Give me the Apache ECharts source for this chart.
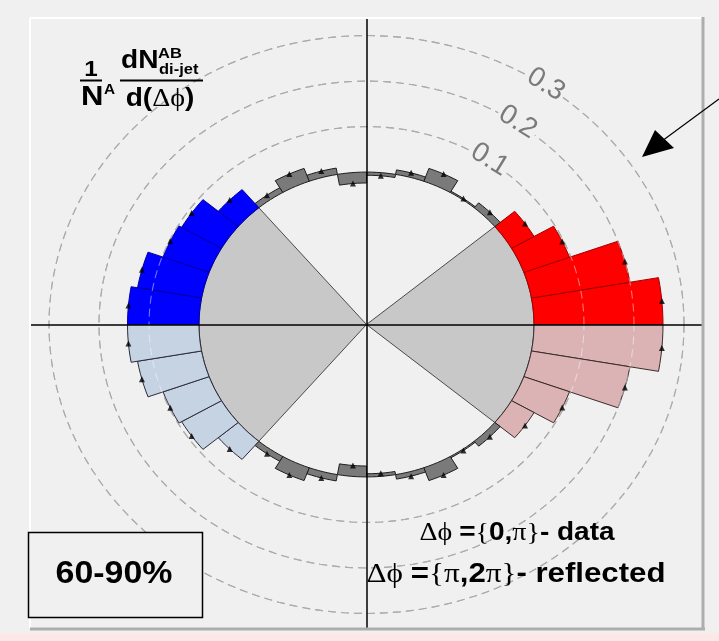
<!DOCTYPE html>
<html>
<head>
<meta charset="utf-8">
<title>Di-jet Δϕ distribution, 60-90%</title>
<script src="https://cdn.jsdelivr.net/npm/echarts@6/dist/echarts.min.js"></script>
<style>
html,body{margin:0;padding:0;background:#f0f0f0;}
#chart{width:719px;height:641px;}
</style>
</head>
<body>
<div id="chart"></div>
<script>
// Δϕ binning (degrees): 18 bins of 10° across the measured half {0, π}
const binStartDeg = [0, 10, 20, 30, 40, 50, 60, 70, 80, 90, 100, 110, 120, 130, 140, 150, 160, 170];
const binWidthDeg = 10;
// 1/N^A dN^AB_di-jet / d(Δϕ) for each bin
const pairYield = [0.258, 0.200, 0.097, 0.052, 0.014, 0.003, 0.030, 0.010, -0.007,
                   -0.024, 0.014, 0.030, 0.012, 0.052, 0.092, 0.098, 0.130, 0.143];
// near-side and away-side windows (degrees), drawn as shaded sectors
const nearSideDeg = [-40, 40];
const awaySideDeg = [130, 230];
// radial rings and their labels
const ringTicks = [0.1, 0.2, 0.3];
const ringTickLabels = ['0.1', '0.2', '0.3'];
// radius (axis units) of the zero-yield ellipse
const zeroRadius = 0.335;
const centralityLabel = '60-90%';

const DEG = Math.PI / 180;
const SANS = '"Liberation Sans", Arial, Helvetica, sans-serif';
const SERIF = '"Liberation Serif", "Times New Roman", serif';

function toXY(r, deg) {
  return [r * Math.cos(deg * DEG), r * Math.sin(deg * DEG)];
}

// measured half {0, π} plus its mirror image {π, 2π}
const bins = [];
binStartDeg.forEach(function (s, i) {
  const mid = s + binWidthDeg / 2;
  const side = mid < nearSideDeg[1] ? 'near' : (mid > awaySideDeg[0] ? 'away' : 'none');
  bins.push({ a0: s, a1: s + binWidthDeg, v: pairYield[i], side: side, reflected: false });
  bins.push({ a0: -(s + binWidthDeg), a1: -s, v: pairYield[i], side: side, reflected: true });
});

const binStyle = {
  near:  { fill: '#ff0000', stroke: '#a00000' },
  away:  { fill: '#0000ff', stroke: '#0000a0' },
  nearR: { fill: '#dbb3b5', stroke: '#3b2b2b' },
  awayR: { fill: '#c5d3e3', stroke: '#2b2b3b' },
  none:  { fill: '#7a7a7a', stroke: '#1e1e1e' }
};

function styleFor(b) {
  if (b.side === 'none') return binStyle.none;
  return binStyle[b.side + (b.reflected ? 'R' : '')];
}

function ringPolyline(api, r) {
  const pts = [];
  for (let a = 0; a <= 360; a += 2) pts.push(api.coord(toXY(r, a)));
  return pts;
}

function plainText(x, y, text, font, align, sx) {
  return {
    type: 'text', z: 50, x: x, y: y, scaleX: sx || 1.1,
    style: { text: text, font: font, fill: '#000', align: align, verticalAlign: 'middle',
             textAlign: align, textVerticalAlign: 'middle' }
  };
}

const chart = echarts.init(document.getElementById('chart'), null, { renderer: 'canvas' });

const option = {
  animation: false,
  backgroundColor: '#f0f0f0',
  grid: { left: 30, top: 18, width: 673, height: 610, containLabel: false, outerBoundsMode: 'none' },
  xAxis: {
    type: 'value', min: -0.673, max: 0.673, z: 10,
    axisLine: { show: true, onZero: true, lineStyle: { color: '#000', width: 1.5 } },
    axisTick: { show: false }, axisLabel: { show: false }, splitLine: { show: false }
  },
  yAxis: {
    type: 'value', min: -0.667, max: 0.6736, z: 10,
    axisLine: { show: true, onZero: true, lineStyle: { color: '#000', width: 1.5 } },
    axisTick: { show: false }, axisLabel: { show: false }, splitLine: { show: false }
  },
  series: [
    {
      // dashed rings at constant yield
      type: 'custom', z: 1, silent: true,
      data: ringTicks.map(function (t) { return [t, 0]; }),
      renderItem: function (params, api) {
        return {
          type: 'polyline',
          shape: { points: ringPolyline(api, zeroRadius + ringTicks[params.dataIndex]) },
          style: { stroke: '#666666', lineWidth: 1.1, lineDash: [8, 5], fill: null }
        };
      }
    },
    {
      // near-side / away-side sectors
      type: 'custom', z: 2, silent: true,
      data: [nearSideDeg, awaySideDeg],
      renderItem: function (params, api) {
        const w = params.dataIndex === 0 ? nearSideDeg : awaySideDeg;
        const pts = [api.coord([0, 0])];
        for (let k = 0; k <= 20; k++) {
          pts.push(api.coord(toXY(zeroRadius, w[0] + (w[1] - w[0]) * k / 20)));
        }
        return {
          type: 'polygon', shape: { points: pts },
          style: { fill: '#c8c8c8', stroke: '#3a3a3a', lineWidth: 0.9 }
        };
      }
    },
    {
      // histogram bins drawn outward (or inward) from the zero ellipse
      type: 'custom', z: 3, silent: true,
      data: bins.map(function (b) { return [b.a0, b.a1, b.v]; }),
      renderItem: function (params, api) {
        const b = bins[params.dataIndex];
        const a0 = api.value(0), a1 = api.value(1), v = api.value(2);
        const n = 6, pts = [];
        for (let k = 0; k <= n; k++) pts.push(api.coord(toXY(zeroRadius, a0 + (a1 - a0) * k / n)));
        for (let k = n; k >= 0; k--) pts.push(api.coord(toXY(zeroRadius + v, a0 + (a1 - a0) * k / n)));
        const st = styleFor(b);
        return {
          type: 'polygon', shape: { points: pts },
          style: { fill: st.fill, stroke: st.stroke, lineWidth: 1 }
        };
      }
    },
    {
      // rings seen through the bars
      type: 'custom', z: 4, silent: true,
      data: ringTicks.map(function (t) { return [t, 0]; }),
      renderItem: function (params, api) {
        return {
          type: 'polyline',
          shape: { points: ringPolyline(api, zeroRadius + ringTicks[params.dataIndex]) },
          style: { stroke: 'rgba(255,255,255,0.45)', lineWidth: 1.1, lineDash: [8, 5], fill: null }
        };
      }
    },
    {
      // ring value labels, following the ellipse
      type: 'custom', z: 5, silent: true,
      data: ringTicks.map(function (t) { return [t, 0]; }),
      renderItem: function (params, api) {
        const i = params.dataIndex;
        const r = zeroRadius + ringTicks[i] + 0.003;
        const a = 55.8;
        const p = api.coord(toXY(r, a));
        const p1 = api.coord(toXY(r, a + 2)), p2 = api.coord(toXY(r, a - 2));
        const rot = -Math.atan2(p2[1] - p1[1], p2[0] - p1[0]);
        return {
          type: 'text', x: p[0], y: p[1], rotation: rot,
          style: {
            text: ringTickLabels[i], fill: '#7a7a7a',
            font: 'normal 28px ' + SANS,
            align: 'center', verticalAlign: 'middle',
            textAlign: 'center', textVerticalAlign: 'middle',
            backgroundColor: '#f0f0f0', padding: [0, 2]
          }
        };
      }
    },
    {
      // per-bin point markers
      type: 'scatter', z: 6, silent: true,
      symbol: 'triangle', symbolSize: 6,
      itemStyle: { color: '#000' },
      data: bins.map(function (b) { return toXY(zeroRadius + b.v, (b.a0 + b.a1) / 2); })
    }
  ],
  graphic: [
    // plot pad edges
    { type: 'line', z: 50, shape: { x1: 30, y1: 18, x2: 703, y2: 18 }, style: { stroke: '#ffffff', lineWidth: 2 } },
    { type: 'line', z: 50, shape: { x1: 30, y1: 18, x2: 30, y2: 628 }, style: { stroke: '#ffffff', lineWidth: 2 } },
    { type: 'line', z: 50, shape: { x1: 703, y1: 17, x2: 703, y2: 630 }, style: { stroke: '#adadad', lineWidth: 3 } },
    { type: 'line', z: 50, shape: { x1: 30, y1: 629, x2: 705, y2: 629 }, style: { stroke: '#adadad', lineWidth: 3 } },
    { type: 'rect', z: 50, shape: { x: 0, y: 633, width: 719, height: 8 }, style: { fill: '#fde8e8' } },

    // axis title: 1/N^A dN^AB_di-jet / d(Δϕ)
    plainText(91, 70, '1', 'bold 22px ' + SANS, 'center', 1.1),
    { type: 'line', z: 50, shape: { x1: 80, y1: 80.5, x2: 102, y2: 80.5 }, style: { stroke: '#000', lineWidth: 2 } },
    plainText(81, 98, 'N', 'bold 27px ' + SANS, 'left', 1.15),
    plainText(104, 90, 'A', 'bold 14px ' + SANS, 'left', 1.1),
    plainText(121, 61, 'dN', 'bold 26px ' + SANS, 'left', 1.08),
    plainText(158, 54, 'AB', 'bold 15px ' + SANS, 'left', 1.1),
    plainText(159, 70, 'di-jet', 'bold 15px ' + SANS, 'left', 1.1),
    { type: 'line', z: 50, shape: { x1: 120, y1: 80.5, x2: 203, y2: 80.5 }, style: { stroke: '#000', lineWidth: 2 } },
    { type: 'text', z: 50, x: 160, y: 99, scaleX: 1.08,
      style: {
        text: '{b|d(}{g|Δϕ}{b|)}', align: 'center', verticalAlign: 'middle', textAlign: 'center', textVerticalAlign: 'middle',
        rich: {
          b: { font: 'bold 26px ' + SANS, fill: '#000' },
          g: { font: 'normal 26px ' + SERIF, fill: '#000' }
        }
      } },

    // centrality box
    { type: 'rect', z: 50, shape: { x: 28.5, y: 532.5, width: 174, height: 85 },
      style: { fill: '#f0f0f0', stroke: '#000', lineWidth: 1.5 } },
    plainText(114, 574, centralityLabel, 'bold 32px ' + SANS, 'center', 1.06),

    // range notes
    { type: 'text', z: 50, x: 517, y: 533, scaleX: 1.12,
      style: {
        text: '{g|Δϕ }{b|=}{g|\u007B}{b|0,}{g|π}{g|\u007D}{b|- data}',
        align: 'center', verticalAlign: 'middle', textAlign: 'center', textVerticalAlign: 'middle',
        font: 'normal 25px ' + SERIF, fill: '#000',
        rich: {
          b: { font: 'bold 25px ' + SANS, fill: '#000' },
          g: { font: 'normal 25px ' + SERIF, fill: '#000' }
        }
      } },
    { type: 'text', z: 50, x: 516, y: 575, scaleX: 1.155,
      style: {
        text: '{g|Δϕ }{b|=}{g|\u007B}{g|π}{b|,2}{g|π}{g|\u007D}{b|- reflected}',
        align: 'center', verticalAlign: 'middle', textAlign: 'center', textVerticalAlign: 'middle',
        font: 'normal 27px ' + SERIF, fill: '#000',
        rich: {
          b: { font: 'bold 27px ' + SANS, fill: '#000' },
          g: { font: 'normal 27px ' + SERIF, fill: '#000' }
        }
      } },

    // pointer arrow
    { type: 'line', z: 50, shape: { x1: 719, y1: 99, x2: 662, y2: 141 }, style: { stroke: '#000', lineWidth: 1.2 } },
    { type: 'polygon', z: 50, shape: { points: [[642, 157], [655, 130], [674, 148]] }, style: { fill: '#000' } }
  ]
};

chart.setOption(option);
</script>
</body>
</html>
